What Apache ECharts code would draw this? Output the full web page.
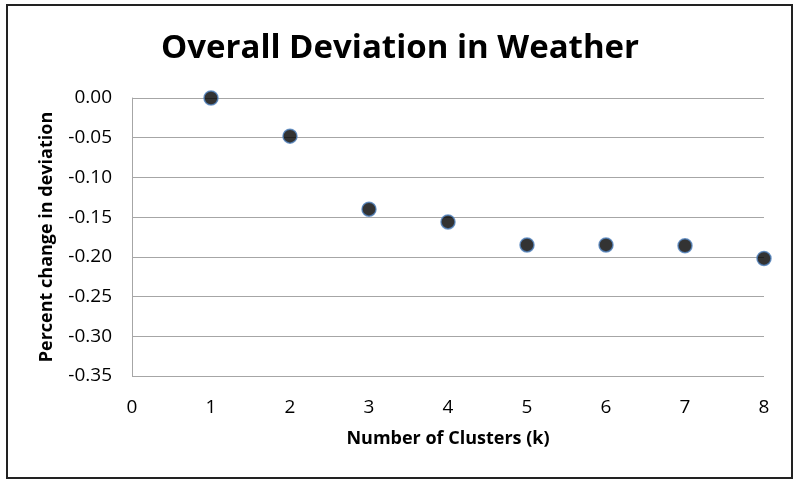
<!DOCTYPE html>
<html><head><meta charset="utf-8">
<script src="https://cdn.jsdelivr.net/npm/echarts@6/dist/echarts.min.js"></script>
<style>html,body{margin:0;padding:0;background:#fff}#c{width:800px;height:485px}</style>
</head><body><div id="c"></div>
<script>
const clusters = [1, 2, 3, 4, 5, 6, 7, 8];
const deviation = [0.000, -0.048, -0.140, -0.156, -0.185, -0.185, -0.186, -0.202];
const titleText = 'Overall Deviation in Weather';
const xTitle = 'Number of Clusters (k)';
const yTitle = 'Percent change in deviation';

const chart = echarts.init(document.getElementById('c'), null, {renderer: 'canvas'});
const font = 'Open Sans';
chart.setOption({
  animation: false,
  backgroundColor: '#fff',
  title: {
    text: titleText, left: 'center', top: 27,
    textStyle: {fontFamily: font, fontWeight: 'bold', fontSize: 33, color: '#000'}
  },
  graphic: [{
    type: 'rect', shape: {x: 7, y: 5, width: 785, height: 473},
    style: {fill: 'none', stroke: '#222', lineWidth: 2}, silent: true
  }],
  grid: {left: 132, right: 36, top: 98, bottom: 109},
  xAxis: {
    type: 'value', min: 0, max: 8, interval: 1,
    name: xTitle, nameLocation: 'middle', nameGap: 54,
    nameTextStyle: {fontFamily: font, fontWeight: 'bold', fontSize: 18, color: '#000'},
    axisLine: {show: false}, axisTick: {show: false}, splitLine: {show: false},
    axisLabel: {fontFamily: font, fontSize: 19, color: '#000', margin: 22}
  },
  yAxis: {
    type: 'value', min: -0.35, max: 0, interval: 0.05,
    name: yTitle, nameLocation: 'middle', nameGap: 76,
    nameTextStyle: {fontFamily: font, fontWeight: 'bold', fontSize: 18, color: '#000'},
    axisLine: {show: true, lineStyle: {color: '#a6a6a6', width: 1}},
    axisTick: {show: false},
    splitLine: {show: true, lineStyle: {color: '#a6a6a6', width: 1}},
    axisLabel: {fontFamily: font, fontSize: 19, color: '#000', margin: 20,
      formatter: v => v.toFixed(2)}
  },
  series: [{
    type: 'scatter',
    data: clusters.map((c, i) => [c, deviation[i]]),
    symbol: 'circle', symbolSize: 14,
    itemStyle: {color: '#000', borderColor: '#4f81bd', borderWidth: 1.5}
  }]
});
</script></body></html>
